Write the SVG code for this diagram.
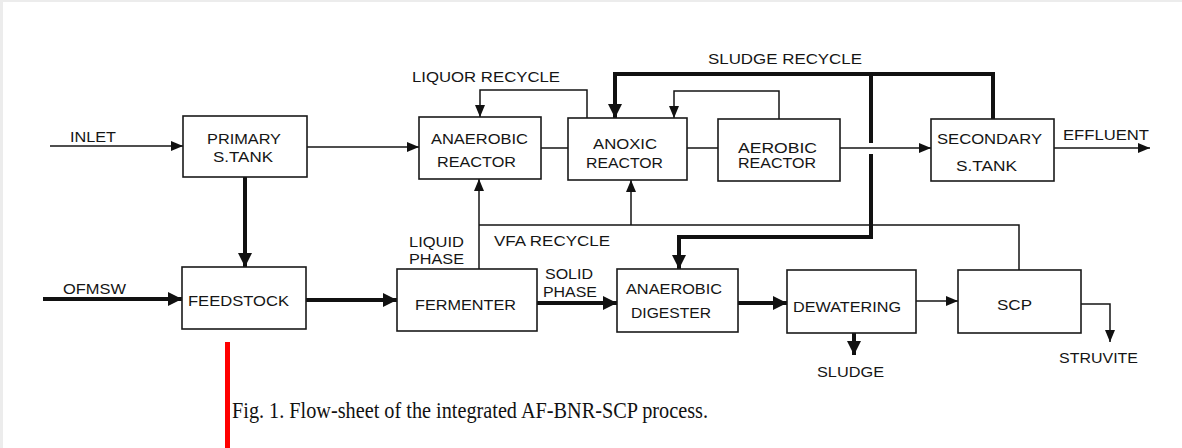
<svg xmlns="http://www.w3.org/2000/svg" width="1182" height="448" viewBox="0 0 1182 448">
<style>
.bg{fill:#ffffff}
.frame{fill:#ececec}
.box{fill:#ffffff;stroke:#1a1a1a;stroke-width:1.6}
.t{font-family:"Liberation Sans",Arial,sans-serif;font-size:15.5px;fill:#151515}
.lbl{font-family:"Liberation Sans",Arial,sans-serif;font-size:15px;fill:#151515}
.thin{fill:none;stroke:#151515;stroke-width:1.5}
.thick{fill:none;stroke:#111;stroke-width:4}
.cap{font-family:"Liberation Serif","Times New Roman",serif;font-size:24px;fill:#111}
</style>
<defs>
<marker id="a" markerUnits="userSpaceOnUse" markerWidth="12" markerHeight="10" refX="12" refY="5" orient="auto">
<path d="M0,0 L12,5 L0,10 z" fill="#111"/>
</marker>
<marker id="A" markerUnits="userSpaceOnUse" markerWidth="14" markerHeight="14" refX="14" refY="7" orient="auto">
<path d="M0,0 L14,7 L0,14 z" fill="#111"/>
</marker>
</defs>
<rect class="bg" x="0" y="0" width="1182" height="448"/>
<rect class="frame" x="0" y="0" width="1182" height="2"/>
<rect class="frame" x="0" y="0" width="3" height="448"/>

<g id="connectors">
<path class="thin" d="M50,146 H183" marker-end="url(#a)"/>
<path class="thin" d="M307,147 H419" marker-end="url(#a)"/>
<path class="thin" d="M541,148 H568"/>
<path class="thin" d="M687,148 H718"/>
<path class="thin" d="M840,148 H931" marker-end="url(#a)"/>
<path class="thin" d="M1054,148 H1150" marker-end="url(#a)"/>
<path class="thin" d="M587,118 V90 H480 V117" marker-end="url(#a)"/>
<path class="thin" d="M779,119 V91 H674 V118" marker-end="url(#a)"/>
<path class="thick" d="M993,119 V74 H615 V118" marker-end="url(#A)"/>
<path class="thick" d="M871,74 V143"/>
<path class="thick" d="M871,154 V237 H679 V269" marker-end="url(#A)"/>
<path class="thin" d="M1019,270 V225 H479"/>
<path class="thin" d="M479,269 V179" marker-end="url(#a)"/>
<path class="thin" d="M631,225 V180" marker-end="url(#a)"/>
<path class="thick" d="M43,299 H182" marker-end="url(#A)"/>
<path class="thick" d="M245,177 V267" marker-end="url(#A)"/>
<path class="thick" d="M306,300 H397" marker-end="url(#A)"/>
<path class="thick" d="M537,303 H617" marker-end="url(#A)"/>
<path class="thick" d="M738,303 H787" marker-end="url(#A)"/>
<path class="thin" d="M916,301 H958" marker-end="url(#a)"/>
<path class="thick" d="M854,333 V355" marker-end="url(#A)"/>
<path class="thin" d="M1081,304 H1110 V342" marker-end="url(#a)"/>
</g>

<g id="labels">
<text class="lbl" x="70" y="142" textLength="46" lengthAdjust="spacingAndGlyphs">INLET</text>
<text class="lbl" x="63" y="294" textLength="63" lengthAdjust="spacingAndGlyphs">OFMSW</text>
<text class="lbl" x="412" y="82" textLength="148" lengthAdjust="spacingAndGlyphs">LIQUOR RECYCLE</text>
<text class="lbl" x="708" y="64" textLength="154" lengthAdjust="spacingAndGlyphs">SLUDGE RECYCLE</text>
<text class="lbl" x="1063" y="140" textLength="86" lengthAdjust="spacingAndGlyphs">EFFLUENT</text>
<text class="lbl" x="409" y="247" textLength="55" lengthAdjust="spacingAndGlyphs">LIQUID</text>
<text class="lbl" x="409" y="264" textLength="55" lengthAdjust="spacingAndGlyphs">PHASE</text>
<text class="lbl" x="494" y="246" textLength="116" lengthAdjust="spacingAndGlyphs">VFA RECYCLE</text>
<text class="lbl" x="545" y="279" textLength="48" lengthAdjust="spacingAndGlyphs">SOLID</text>
<text class="lbl" x="543" y="297" textLength="54" lengthAdjust="spacingAndGlyphs">PHASE</text>
<text class="lbl" x="817" y="377" textLength="67" lengthAdjust="spacingAndGlyphs">SLUDGE</text>
<text class="lbl" x="1059" y="363" textLength="79" lengthAdjust="spacingAndGlyphs">STRUVITE</text>
</g>

<g id="primary">
<rect class="box" x="183" y="116" width="124" height="61"/>
<text class="t" x="207" y="144" textLength="74" lengthAdjust="spacingAndGlyphs">PRIMARY</text>
<text class="t" x="213" y="162" textLength="60" lengthAdjust="spacingAndGlyphs">S.TANK</text>
</g>
<g id="anaerobic">
<rect class="box" x="419" y="117" width="122" height="62"/>
<text class="t" x="431" y="144" textLength="97" lengthAdjust="spacingAndGlyphs">ANAEROBIC</text>
<text class="t" x="437" y="167" textLength="79" lengthAdjust="spacingAndGlyphs">REACTOR</text>
</g>
<g id="anoxic">
<rect class="box" x="568" y="118" width="119" height="62"/>
<text class="t" x="593" y="149" textLength="64" lengthAdjust="spacingAndGlyphs">ANOXIC</text>
<text class="t" x="586" y="168" textLength="77" lengthAdjust="spacingAndGlyphs">REACTOR</text>
</g>
<g id="aerobic">
<rect class="box" x="718" y="119" width="122" height="62"/>
<text class="t" x="738" y="153" textLength="79" lengthAdjust="spacingAndGlyphs">AEROBIC</text>
<text class="t" x="738" y="168" textLength="78" lengthAdjust="spacingAndGlyphs">REACTOR</text>
</g>
<g id="secondary">
<rect class="box" x="931" y="119" width="123" height="62"/>
<text class="t" x="937" y="144" textLength="105" lengthAdjust="spacingAndGlyphs">SECONDARY</text>
<text class="t" x="956" y="171" textLength="61" lengthAdjust="spacingAndGlyphs">S.TANK</text>
</g>
<g id="feedstock">
<rect class="box" x="182" y="267" width="124" height="62"/>
<text class="t" x="188" y="306" textLength="101" lengthAdjust="spacingAndGlyphs">FEEDSTOCK</text>
</g>
<g id="fermenter">
<rect class="box" x="397" y="269" width="140" height="62"/>
<text class="t" x="415" y="310" textLength="101" lengthAdjust="spacingAndGlyphs">FERMENTER</text>
</g>
<g id="digester">
<rect class="box" x="617" y="269" width="121" height="63"/>
<text class="t" x="626" y="294" textLength="96" lengthAdjust="spacingAndGlyphs">ANAEROBIC</text>
<text class="t" x="631" y="318" textLength="80" lengthAdjust="spacingAndGlyphs">DIGESTER</text>
</g>
<g id="dewatering">
<rect class="box" x="787" y="270" width="129" height="63"/>
<text class="t" x="793" y="312" textLength="108" lengthAdjust="spacingAndGlyphs">DEWATERING</text>
</g>
<g id="scp">
<rect class="box" x="958" y="270" width="123" height="63"/>
<text class="t" x="997" y="310" textLength="35" lengthAdjust="spacingAndGlyphs">SCP</text>
</g>

<rect x="225" y="342" width="5" height="106" fill="#ff0000"/>
<text class="cap" x="232" y="418" textLength="476" lengthAdjust="spacingAndGlyphs">Fig. 1. Flow-sheet of the integrated AF-BNR-SCP process.</text>
</svg>
